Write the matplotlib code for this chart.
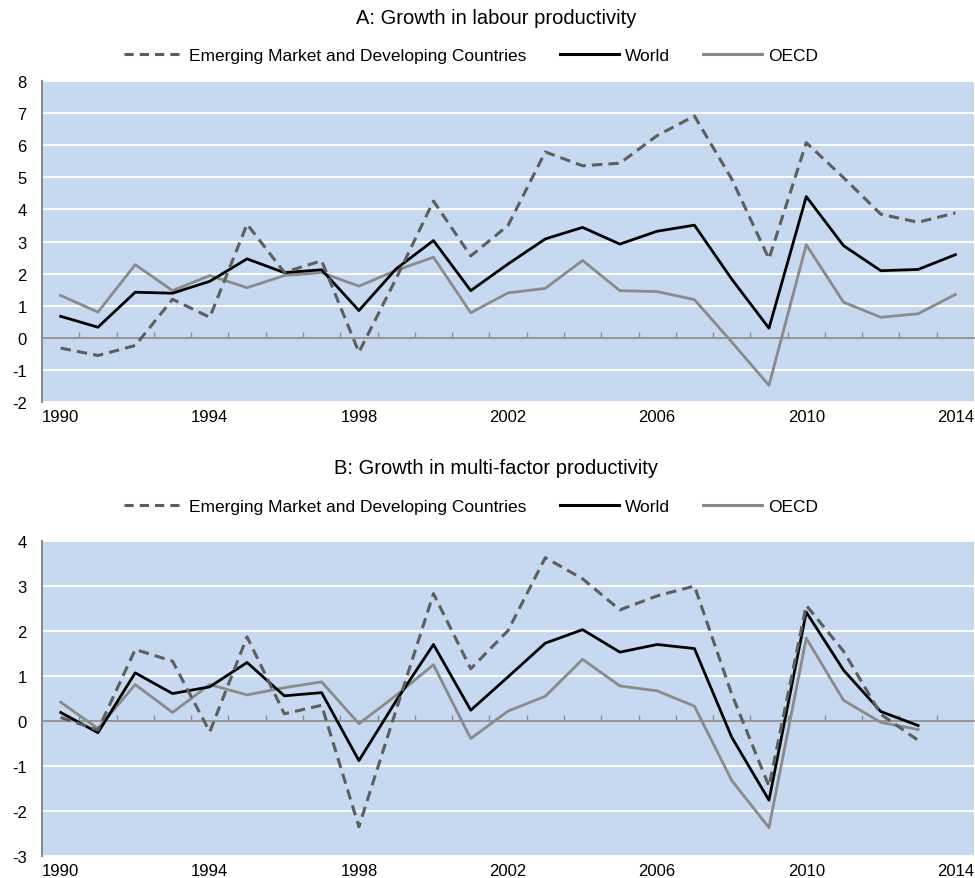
import numpy as np
import matplotlib
matplotlib.use("Agg")
import matplotlib.pyplot as plt
from matplotlib.lines import Line2D

plt.rcParams["font.family"] = ["Liberation Sans", "DejaVu Sans"]
plt.rcParams["axes.unicode_minus"] = False

# ── DATA ──────────────────────────────────────────────────────────────────────
years = list(range(1990, 2015))
year_labels = ["1990", "1994", "1998", "2002", "2006", "2010", "2014"]

# A: labour productivity growth (%)
lab_emdc = [-0.32, -0.55, -0.24, 1.20, 0.64, 3.54, 2.04, 2.40, -0.45, 1.85,
            4.26, 2.55, 3.50, 5.79, 5.36, 5.44, 6.30, 6.91, 4.95, 2.46,
            6.08, 4.99, 3.85, 3.60, 3.89]
lab_world = [0.67, 0.33, 1.42, 1.39, 1.76, 2.46, 2.03, 2.12, 0.85, 2.15,
             3.03, 1.47, 2.30, 3.08, 3.44, 2.92, 3.32, 3.51, 1.83, 0.30,
             4.40, 2.87, 2.09, 2.13, 2.59]
lab_oecd = [1.32, 0.80, 2.28, 1.47, 1.94, 1.56, 1.94, 2.03, 1.61, 2.10,
            2.51, 0.78, 1.40, 1.54, 2.41, 1.47, 1.44, 1.19, -0.13, -1.48,
            2.90, 1.11, 0.64, 0.75, 1.35]

# B: multi-factor productivity growth (%), no 2014 value
mfp_emdc = [0.08, -0.20, 1.59, 1.33, -0.24, 1.87, 0.16, 0.35, -2.35, 0.25,
            2.83, 1.16, 2.01, 3.63, 3.16, 2.47, 2.78, 3.00, 0.60, -1.45,
            2.57, 1.55, 0.15, -0.43, np.nan]
mfp_world = [0.19, -0.26, 1.07, 0.61, 0.76, 1.30, 0.56, 0.63, -0.88, 0.45,
             1.70, 0.24, 0.98, 1.73, 2.03, 1.53, 1.70, 1.61, -0.36, -1.76,
             2.42, 1.13, 0.21, -0.10, np.nan]
mfp_oecd = [0.42, -0.17, 0.81, 0.19, 0.81, 0.58, 0.74, 0.87, -0.06, 0.57,
            1.25, -0.39, 0.22, 0.55, 1.37, 0.78, 0.67, 0.33, -1.32, -2.37,
            1.84, 0.46, -0.03, -0.19, np.nan]

names = ["Emerging Market and Developing Countries", "World", "OECD"]

# ── STYLE ─────────────────────────────────────────────────────────────────────
BG = "#C6D9F0"
C_EMDC, C_WORLD, C_OECD = "#5E5E5E", "#000000", "#8A8A8A"
DASH = (0, (3.4, 2.0))
AXIS_GREY = "#8C8C8C"

fig = plt.figure(figsize=(9.75, 8.79), dpi=100)

def panel(rect, emdc, world, oecd, ylim, title, title_y, leg_y):
    ax = fig.add_axes(rect)
    ax.set_facecolor(BG)
    ax.plot(years, oecd, color=C_OECD, lw=2.0, zorder=3)
    ax.plot(years, world, color=C_WORLD, lw=2.0, zorder=4)
    ax.plot(years, emdc, color=C_EMDC, lw=2.2, ls=DASH, zorder=5)

    ax.set_xlim(1989.5, 2014.5)
    ax.set_ylim(*ylim)
    ax.set_yticks(range(ylim[0], ylim[1] + 1))
    ax.yaxis.grid(True, color="white", lw=1.3)
    ax.set_axisbelow(True)

    for s in ("top", "right"):
        ax.spines[s].set_visible(False)
    ax.spines["left"].set_color(AXIS_GREY)
    ax.spines["left"].set_linewidth(1.5)
    ax.spines["bottom"].set_position(("data", 0))
    ax.spines["bottom"].set_color(AXIS_GREY)
    ax.spines["bottom"].set_linewidth(1.3)
    ax.spines["bottom"].set_zorder(2)

    # category boundary ticks on the zero line
    ax.set_xticks(np.arange(1990.5, 2014, 1.0))
    ax.tick_params(axis="x", direction="in", length=4, width=1,
                   color=AXIS_GREY, labelbottom=False)
    ax.tick_params(axis="y", length=0, pad=11, labelsize=12)

    sec = ax.secondary_xaxis("bottom")
    sec.set_xticks([int(y) for y in year_labels], year_labels)
    sec.tick_params(length=0, pad=5, labelsize=12)
    sec.spines["bottom"].set_visible(False)

    fig.text(0.509, title_y, title, ha="center", va="center", fontsize=14.5)

    handles = [Line2D([], [], color=C_EMDC, lw=2.2, ls=(0, (3.0, 2.0))),
               Line2D([], [], color=C_WORLD, lw=2.2),
               Line2D([], [], color=C_OECD, lw=2.2)]
    fig.legend(handles, names, loc="center", bbox_to_anchor=(0.483, leg_y),
               ncol=3, frameon=False, fontsize=12.5, handlelength=3.4,
               handletextpad=0.35, columnspacing=1.9)
    return ax

panel([0.0431, 0.5415, 0.9559, 0.3652], lab_emdc, lab_world, lab_oecd,
      (-2, 8), "A: Growth in labour productivity", 1 - 18 / 879, 1 - 56 / 879)
panel([0.0431, 0.0250, 0.9559, 0.3584], mfp_emdc, mfp_world, mfp_oecd,
      (-3, 4), "B: Growth in multi-factor productivity", 1 - 468 / 879, 1 - 507 / 879)

fig.savefig("out.png", dpi=100)
